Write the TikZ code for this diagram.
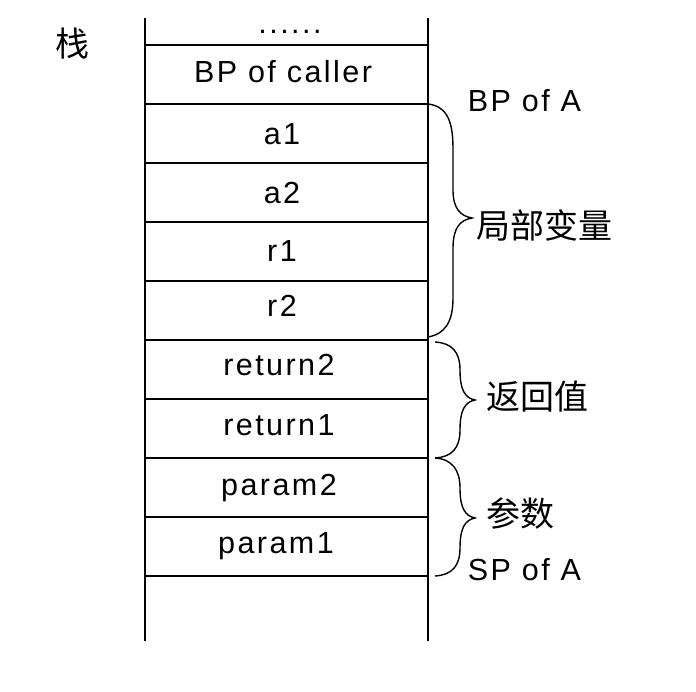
\documentclass[tikz,border=0pt]{standalone}
\usepackage{fontspec}
\setmainfont[LetterSpace=8]{Liberation Sans}
\newfontfamily\cjk{Noto Sans CJK SC}
\begin{document}
\begin{tikzpicture}[x=1pt,y=-1pt,line width=1.8pt,
  cell/.style={anchor=base,inner sep=0pt,font=\fontsize{30.5}{30.5}\selectfont},
  lbl/.style={anchor=base west,inner sep=0pt,font=\fontsize{30.5}{30.5}\selectfont},
  cjklbl/.style={anchor=west,inner sep=0pt,font=\cjk\fontsize{34}{34}\selectfont},
  brace/.style={line width=1.4pt}]
\useasboundingbox (0,0) rectangle (696,692);
% stack columns
\coordinate (tl) at (145,18);
\coordinate (bl) at (145,641);
\coordinate (tr) at (428,18);
\coordinate (br) at (428,641);
\draw (tl) -- (bl);
\draw (tr) -- (br);
\foreach \y/\n in {45/h1,104/h2,163/h3,222/h4,281/h5,340/h6,399/h7,458/h8,517/h9,576/h10}{
  \coordinate (\n l) at (145,\y);
  \coordinate (\n r) at (428,\y);
  \draw (\n l) -- (\n r);
}
% cell texts
\node[cell] (dots) at (290,33.5) {......};
\node[cell] (bpc) at (283,83) {BP of caller};
\node[cell] (a1) at (282,145) {a1};
\node[cell] (a2) at (282,204) {a2};
\node[cell] (r1) at (282,262) {r1};
\node[cell] (r2) at (282,317) {r2};
\node[cell] (ret2) at (279,376) {return2};
\node[cell] (ret1) at (279,435) {return1};
\node[cell] (p2) at (279,495) {param2};
\node[cell] (p1) at (276,553) {param1};
% left label
\node[inner sep=0pt,font=\cjk\fontsize{34}{34}\selectfont] (zhan) at (72,44) {栈};
% right labels
\node[lbl] (bpa) at (467,112) {BP of A};
\node[lbl] (spa) at (467,580) {SP of A};
\node[cjklbl] (jubu) at (476,225) {局部变量};
\node[cjklbl] (fanhui) at (486,397) {返回值};
\node[cjklbl] (canshu) at (486,514) {参数};
% braces
\draw[brace] (428,104) .. controls (445,106) and (453,118) .. (453,148)
  -- (453,190) .. controls (453,208) and (460,216) .. (472,218)
  .. controls (460,220) and (453,228) .. (453,248)
  -- (453,298) .. controls (453,322) and (445,334) .. (428,337);
\draw[brace] (435,342) .. controls (452,343) and (460,352) .. (460,370)
  .. controls (460,390) and (465,398) .. (475,400)
  .. controls (465,402) and (460,410) .. (460,430)
  .. controls (460,448) and (452,457) .. (435,458);
\draw[brace] (435,458) .. controls (452,459) and (460,470) .. (460,488)
  .. controls (460,508) and (465,516) .. (475,518)
  .. controls (465,520) and (460,528) .. (460,548)
  .. controls (460,566) and (452,575) .. (435,576);
\end{tikzpicture}
\end{document}
